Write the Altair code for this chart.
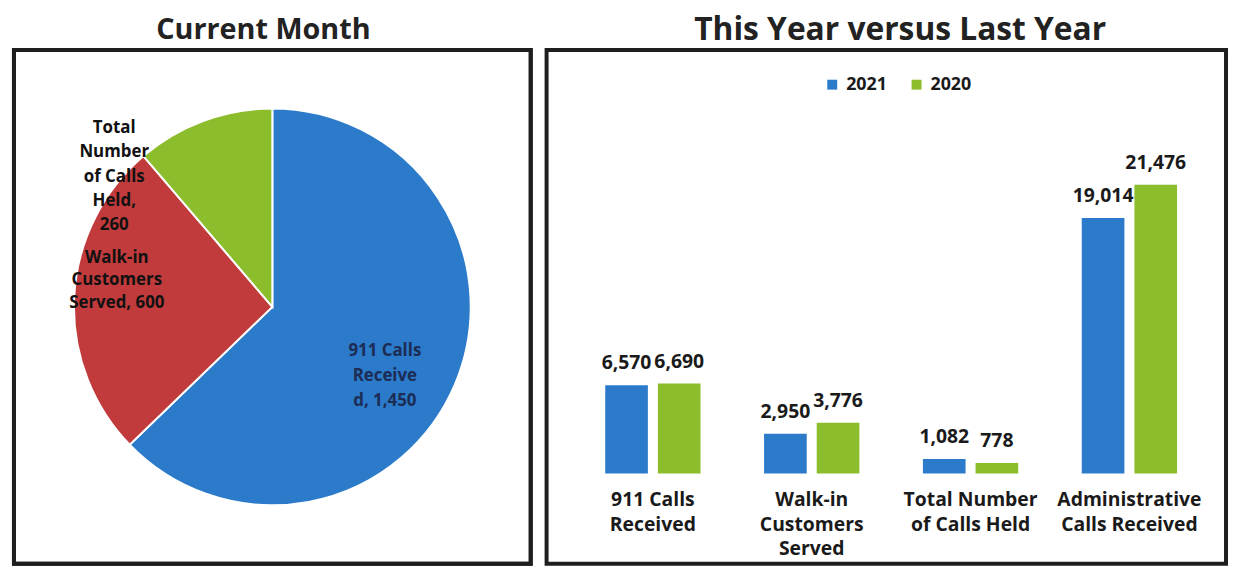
import altair as alt
import pandas as pd

# ---------------- data ----------------
pie_categories = ["911 Calls Received", "Walk-in Customers Served", "Total Number of Calls Held"]
pie_values = [1450, 600, 260]
pie_labels = ["911 Calls\nReceive\nd, 1,450", "Walk-in\nCustomers\nServed, 600", "Total\nNumber\nof Calls\nHeld,\n260"]
pie_colors = ["#2b7bca", "#c23b3c", "#8cbd2c"]

bar_categories = ["911 Calls Received", "Walk-in Customers Served",
                  "Total Number of Calls Held", "Administrative Calls Received"]
tick_labels = [["911 Calls", "Received"], ["Walk-in", "Customers", "Served"],
               ["Total Number", "of Calls Held"], ["Administrative", "Calls Received"]]
years = ["2021", "2020"]
values_2021 = [6570, 2950, 1082, 19014]
values_2020 = [6690, 3776, 778, 21476]
year_colors = ["#2b7bca", "#8cbd2c"]

FONT = "Open Sans"
TXT = "#1a1a1a"
FRAME = "#1e1e1e"
PIE_W, PIE_H = 521, 518
BAR_W, BAR_H = 685, 518

# ---------------- pie ----------------
pie_df = pd.DataFrame({"idx": list(range(len(pie_categories))),
                       "category": pie_categories,
                       "value": pie_values,
                       "label": pie_labels})

pie_base = alt.Chart(pie_df)

arcs = pie_base.mark_arc(outerRadius=200, stroke="white", strokeWidth=2).encode(
    theta=alt.Theta("value:Q", stack=True),
    order=alt.Order("idx:Q"),
    color=alt.Color("category:N", sort=pie_categories,
                    scale=alt.Scale(domain=pie_categories, range=pie_colors),
                    legend=None),
)

label_base = pie_base.transform_window(
    cum="sum(value)", sort=[alt.SortField("idx")]
).transform_joinaggregate(
    total="sum(value)"
).transform_calculate(
    ang="2*PI*(datum.cum - datum.value/2)/datum.total"
)

label_style = [
    # (radius, dx, dy, color, lineHeight)
    (133, -9, -7, "#1c2c55", 25),
    (159, 2, -42, "#111111", 23),
    (160, -104, -30, "#111111", 24.5),
]

label_layers = []
for cat, (r, dx, dy, col, lh) in zip(pie_categories, label_style):
    label_layers.append(
        label_base.transform_filter(alt.datum.category == cat).mark_text(
            radius=r, dx=dx, dy=dy, font=FONT, fontWeight="bold", fontSize=17,
            color=col, lineBreak="\n", lineHeight=lh, align="center", baseline="middle"
        ).encode(
            theta=alt.Theta("ang:Q", scale=None, stack=False),
            text="label:N",
        )
    )

frame = pie_base.transform_aggregate(n="count()").mark_rect(
    filled=False, stroke=FRAME, strokeWidth=4
).encode(
    x=alt.value(0), x2=alt.value("width"), y=alt.value(0), y2=alt.value("height")
)

pie = alt.layer(arcs, *label_layers, frame).resolve_scale(theta="independent").properties(
    width=PIE_W, height=PIE_H,
    title=alt.TitleParams("Current Month", fontSize=29, font=FONT, fontWeight="bold",
                          color="#222222", anchor="middle", dx=-9, offset=3),
)

# ---------------- bars ----------------
rows = []
for c, a, b in zip(bar_categories, values_2021, values_2020):
    rows.append({"category": c, "year": years[0], "value": a})
    rows.append({"category": c, "year": years[1], "value": b})
bar_df = pd.DataFrame(rows)

cats_js = "[" + ",".join("'" + c + "'" for c in bar_categories) + "]"
ticks_js = "[" + ",".join("[" + ",".join("'" + s + "'" for s in t) + "]" for t in tick_labels) + "]"
label_expr = f"{ticks_js}[indexof({cats_js}, datum.label)]"

bar_base = alt.Chart(bar_df).encode(
    x=alt.X("category:N", sort=bar_categories,
            scale=alt.Scale(paddingInner=0.4, paddingOuter=0.3387, align=0.545),
            axis=alt.Axis(title=None, labelAngle=0, domain=False, ticks=False,
                          offset=-80, labelPadding=6, labelFontSize=19.5, labelFont=FONT,
                          labelFontWeight="bold", labelColor=TXT, labelLineHeight=25,
                          labelBaseline="top", labelExpr=label_expr, labelOverlap=False,
                          labelLimit=300, grid=False)),
    xOffset=alt.XOffset("year:N", sort=years, scale=alt.Scale(paddingInner=0.19)),
    y=alt.Y("value:Q", scale=alt.Scale(domain=[-6716, 31513], nice=False, zero=False), axis=None),
)

bars = bar_base.mark_bar().encode(
    color=alt.Color("year:N", sort=years,
                    scale=alt.Scale(domain=years, range=year_colors),
                    legend=alt.Legend(title=None, orient="none", legendX=279, legendY=26,
                                      direction="horizontal", symbolType="square",
                                      symbolSize=100, symbolStrokeWidth=0,
                                      labelFontSize=18, labelFont=FONT, labelFontWeight="bold",
                                      labelColor=TXT, labelOffset=5, columnPadding=20)),
)

bar_text = bar_base.mark_text(dy=-22, font=FONT, fontWeight="bold", fontSize=19.5,
                              color=TXT, baseline="middle").encode(
    text=alt.Text("value:Q", format=","),
)

bar_chart = alt.layer(bars, bar_text).properties(
    width=BAR_W, height=BAR_H,
    title=alt.TitleParams("This Year versus Last Year", fontSize=32, font=FONT,
                          fontWeight="bold", color="#222222", anchor="middle",
                          dx=14, offset=3),
)

chart = alt.hconcat(pie, bar_chart, spacing=10).resolve_scale(
    color="independent", theta="independent"
).resolve_legend(color="independent").properties(
    padding={"left": 2, "top": 2, "right": 0, "bottom": 0},
    background="white",
).configure_view(stroke=FRAME, strokeWidth=4)

chart.save("out.html", embed_options={"renderer": "svg", "actions": False})
